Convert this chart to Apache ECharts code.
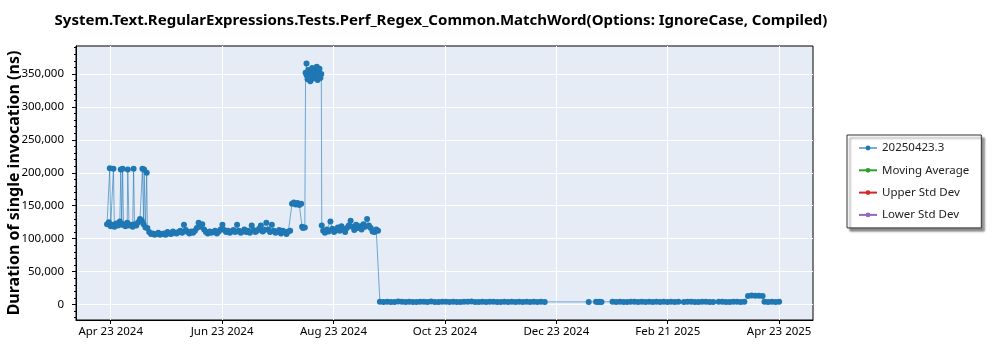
<!DOCTYPE html>
<html>
<head>
<meta charset="utf-8">
<script src="https://cdn.jsdelivr.net/npm/echarts@6/dist/echarts.min.js"></script>
<style>
html,body{margin:0;padding:0;background:#fff;}
#chart{width:1000px;height:350px;}
</style>
</head>
<body>
<div id="chart"></div>
<script>
// ---------- DATA ----------
const chartTitle = 'System.Text.RegularExpressions.Tests.Perf_Regex_Common.MatchWord(Options: IgnoreCase, Compiled)';
const yAxisTitle = 'Duration of single invocation (ns)';
const seriesNames = ['20250423.3', 'Moving Average', 'Upper Std Dev', 'Lower Std Dev'];
const xTickLabels = ['Apr 23 2024', 'Jun 23 2024', 'Aug 23 2024', 'Oct 23 2024', 'Dec 23 2024', 'Feb 21 2025', 'Apr 23 2025'];
const xTickOrigin = '2024-04-23';
const xTickStepDays = 365 / 6;
const yTickValues = [0, 50000, 100000, 150000, 200000, 250000, 300000, 350000];
const yMinorTickValues = [-20000, -10000, 10000, 20000, 30000, 40000, 60000, 70000, 80000, 90000,
  110000, 120000, 130000, 140000, 160000, 170000, 180000, 190000, 210000, 220000, 230000, 240000,
  260000, 270000, 280000, 290000, 310000, 320000, 330000, 340000, 360000, 370000, 380000, 390000];

const runDates = [
  '2024-04-21','2024-04-22','2024-04-22T12:00','2024-04-23','2024-04-24','2024-04-24T12:00','2024-04-25','2024-04-26','2024-04-27','2024-04-28',
  '2024-04-28T12:00','2024-04-29','2024-04-29T12:00','2024-04-30','2024-05-01','2024-05-02','2024-05-02T08:00','2024-05-03','2024-05-04','2024-05-05',
  '2024-05-05T12:00','2024-05-06','2024-05-07','2024-05-08','2024-05-09','2024-05-10','2024-05-10T08:00','2024-05-11','2024-05-11T06:00','2024-05-12',
  '2024-05-12T16:00','2024-05-13','2024-05-14',
  '2024-05-15','2024-05-16','2024-05-17','2024-05-18','2024-05-19','2024-05-20','2024-05-21','2024-05-22','2024-05-23','2024-05-24',
  '2024-05-25','2024-05-26','2024-05-27','2024-05-28','2024-05-29','2024-05-30','2024-05-31','2024-06-01','2024-06-02','2024-06-03',
  '2024-06-04','2024-06-05','2024-06-06','2024-06-07','2024-06-08','2024-06-09','2024-06-10','2024-06-11','2024-06-12','2024-06-13',
  '2024-06-14','2024-06-15','2024-06-16','2024-06-17','2024-06-18','2024-06-19','2024-06-20','2024-06-21','2024-06-22','2024-06-23',
  '2024-06-24','2024-06-25','2024-06-26','2024-06-27','2024-06-28','2024-06-29','2024-06-30','2024-07-01','2024-07-02','2024-07-03',
  '2024-07-04','2024-07-05','2024-07-06','2024-07-07','2024-07-08','2024-07-09','2024-07-10','2024-07-11','2024-07-12','2024-07-13',
  '2024-07-14','2024-07-15','2024-07-16','2024-07-17','2024-07-18','2024-07-19','2024-07-20','2024-07-21','2024-07-22','2024-07-23',
  '2024-07-24','2024-07-25','2024-07-26','2024-07-27','2024-07-28','2024-07-29','2024-07-30',
  '2024-07-31','2024-08-01','2024-08-02','2024-08-03','2024-08-04','2024-08-05','2024-08-05T12:00','2024-08-06','2024-08-07','2024-08-07T10:00',
  '2024-08-07T22:00','2024-08-08','2024-08-08T12:00','2024-08-09','2024-08-09T12:00','2024-08-10','2024-08-10T12:00','2024-08-11','2024-08-11T12:00','2024-08-12',
  '2024-08-12T12:00','2024-08-13','2024-08-13T12:00','2024-08-14','2024-08-14T12:00','2024-08-15','2024-08-15T12:00','2024-08-16','2024-08-16T06:00',
  '2024-08-17','2024-08-18','2024-08-19','2024-08-20','2024-08-21','2024-08-22','2024-08-23','2024-08-24','2024-08-25','2024-08-26',
  '2024-08-27','2024-08-28','2024-08-29','2024-08-30','2024-08-31','2024-09-01','2024-09-02','2024-09-03','2024-09-04','2024-09-05',
  '2024-09-06','2024-09-07','2024-09-08','2024-09-09','2024-09-10','2024-09-11','2024-09-12','2024-09-13','2024-09-14','2024-09-15','2024-09-16',
  '2024-09-17','2024-09-19','2024-09-21','2024-09-23','2024-09-25','2024-09-27','2024-09-29','2024-10-01','2024-10-03','2024-10-05',
  '2024-10-07','2024-10-09','2024-10-11','2024-10-13','2024-10-15','2024-10-17','2024-10-19','2024-10-21','2024-10-23','2024-10-25',
  '2024-10-27','2024-10-29','2024-10-31','2024-11-02','2024-11-04','2024-11-06','2024-11-08','2024-11-10','2024-11-12','2024-11-14',
  '2024-11-16','2024-11-18','2024-11-20','2024-11-22','2024-11-24','2024-11-26','2024-11-28','2024-11-30','2024-12-02','2024-12-04',
  '2024-12-06','2024-12-08','2024-12-10','2024-12-12','2024-12-14','2024-12-16',
  '2025-01-09','2025-01-13','2025-01-14','2025-01-15','2025-01-16',
  '2025-01-22','2025-01-24','2025-01-26','2025-01-28','2025-01-30','2025-02-01','2025-02-03','2025-02-05','2025-02-07','2025-02-09',
  '2025-02-11','2025-02-13','2025-02-15','2025-02-17','2025-02-19','2025-02-21','2025-02-23','2025-02-25','2025-02-27','2025-03-02',
  '2025-03-04','2025-03-06','2025-03-08','2025-03-10','2025-03-12','2025-03-14','2025-03-16','2025-03-18','2025-03-21','2025-03-23',
  '2025-03-25','2025-03-27','2025-03-29','2025-03-31','2025-04-02','2025-04-04','2025-04-06','2025-04-08','2025-04-10','2025-04-12',
  '2025-04-14','2025-04-15','2025-04-17','2025-04-19','2025-04-21','2025-04-23'
];

const durationNs = [
  122000,125000,207000,119000,121000,206000,118000,123000,120000,126000,
  205000,121000,206000,122000,119000,124000,205000,120000,121000,118000,
  206000,122000,120000,125000,130000,127000,206000,122000,205000,117000,
  200000,116000,110000,
  107000,108000,106000,107000,109000,106000,107000,108000,106000,110000,
  108000,107000,111000,109000,108000,110000,112000,109000,121000,113000,
  110000,108000,111000,109000,112000,116000,124000,118000,122000,114000,
  110000,108000,111000,109000,110000,112000,108000,111000,114000,121000,
  113000,110000,112000,109000,111000,113000,110000,121000,112000,109000,
  111000,114000,110000,112000,109000,120000,113000,110000,112000,115000,
  120000,111000,113000,124000,114000,110000,121000,112000,109000,111000,
  113000,108000,112000,110000,107000,111000,112000,
  153000,155000,152000,154000,151000,153000,118000,116000,117000,352000,
  366000,348000,342000,356000,345000,339000,352000,359000,343000,350000,
  356000,346000,361000,341000,353000,358000,344000,350000,120000,
  112000,109000,114000,111000,126000,115000,110000,113000,117000,112000,
  119000,114000,110000,116000,120000,127000,118000,113000,121000,116000,
  119000,114000,122000,118000,130000,120000,116000,111000,110000,114000,112000,
  4200,3900,4300,4000,3800,4400,4100,3900,4200,4000,
  3800,4300,4100,3900,4400,4000,3800,4200,4100,3900,
  4300,4000,3800,4200,4100,4400,3900,4000,4200,3800,
  4100,4300,3900,4000,4200,3800,4100,4000,4300,3900,
  4100,4000,4200,3800,4100,4000,
  4000,4200,3900,4100,4000,
  4100,3900,4200,4000,3800,4300,4100,3900,4200,4000,
  4100,3800,4200,4000,4300,3900,4100,4000,4200,3900,
  4100,4300,4000,3800,4200,4100,3900,4000,4200,4100,
  3900,4000,4300,4100,4000,4200,13000,13600,13200,13400,
  12800,4200,3900,4100,4000,4100
];

// ---------- BUILD ----------
function toMs(s) {
  const iso = s.length === 10 ? s + 'T00:00' : s;
  return Date.parse(iso + 'Z');
}
const DAY = 86400000;
const originMs = toMs(xTickOrigin);
const stepMs = xTickStepDays * DAY;
function toUnit(s) { return (toMs(s) - originMs) / stepMs; }

const mainData = runDates.map((d, i) => [toUnit(d), durationNs[i]]);
const xTickValues = xTickLabels.map((_, i) => i);

const FONT = 'Noto Sans';
const colors = ['#1f77b4', '#2ca02c', '#d62728', '#9467bd'];
const Y_MIN = -23500, Y_MAX = 392500;

const chart = echarts.init(document.getElementById('chart'), null, { renderer: 'canvas' });
chart.setOption({
  animation: false,
  backgroundColor: '#ffffff',
  title: {
    text: chartTitle,
    left: 436, textAlign: 'center',
    top: 8,
    textStyle: { fontFamily: FONT, fontSize: 15, fontWeight: 'bold', color: '#000' }
  },
  grid: {
    left: 76, right: 187, top: 46, bottom: 30,
    show: true, backgroundColor: '#e5ecf6', borderColor: '#000', borderWidth: 1,
    containLabel: false, outerBoundsMode: 'none'
  },
  legend: {
    orient: 'vertical',
    left: 847, top: 135,
    data: seriesNames,
    backgroundColor: '#ffffff',
    borderColor: '#333', borderWidth: 1,
    shadowColor: 'rgba(0,0,0,0.45)', shadowBlur: 2, shadowOffsetX: 3, shadowOffsetY: 3,
    padding: [7, 12, 7, 11],
    itemGap: 10.3,
    itemWidth: 18, itemHeight: 6,
    textStyle: { fontFamily: FONT, fontSize: 11.5, color: '#222' }
  },
  xAxis: {
    type: 'value',
    min: -0.3115, max: 6.304,
    axisLine: { show: true, onZero: false, lineStyle: { color: '#000' } },
    axisTick: { show: true, length: 4, lineStyle: { color: '#000' }, customValues: xTickValues },
    axisLabel: {
      fontFamily: FONT, fontSize: 11.5, color: '#000', margin: 6,
      customValues: xTickValues,
      formatter: function (v) {
        const i = Math.round(v);
        return (i >= 0 && i < xTickLabels.length) ? xTickLabels[i] : '';
      }
    },
    splitLine: { show: true, lineStyle: { color: '#ffffff', width: 1 } }
  },
  yAxis: [
    {
      type: 'value', position: 'left',
      min: Y_MIN, max: Y_MAX,
      name: yAxisTitle,
      nameLocation: 'middle',
      nameGap: 54,
      nameMoveOverlap: false,
      nameTextStyle: { fontFamily: FONT, fontSize: 16, fontWeight: 'bold', color: '#000' },
      axisLine: { show: true, onZero: false, lineStyle: { color: '#000' } },
      axisTick: { show: true, length: 4, lineStyle: { color: '#000' }, customValues: yTickValues },
      axisLabel: {
        fontFamily: FONT, fontSize: 11.5, color: '#000', margin: 12,
        customValues: yTickValues,
        formatter: function (v) { return v.toLocaleString('en-US'); }
      },
      splitLine: { show: true, lineStyle: { color: '#ffffff', width: 1 } }
    },
    {
      type: 'value', position: 'left', offset: 0,
      min: Y_MIN, max: Y_MAX,
      axisLine: { show: false, onZero: false },
      axisTick: { show: true, length: 2, lineStyle: { color: '#000' }, customValues: yMinorTickValues },
      axisLabel: { show: false },
      splitLine: { show: false }
    }
  ],
  series: [
    {
      name: seriesNames[0], type: 'line', data: mainData,
      symbol: 'circle', symbolSize: 6, showSymbol: true,
      lineStyle: { color: colors[0], width: 1, opacity: 0.6 },
      itemStyle: { color: colors[0], borderWidth: 0 },
      emphasis: { disabled: true }
    },
    { name: seriesNames[1], type: 'line', data: [], symbol: 'circle', lineStyle: { color: colors[1], width: 1 }, itemStyle: { color: colors[1] } },
    { name: seriesNames[2], type: 'line', data: [], symbol: 'circle', lineStyle: { color: colors[2], width: 1 }, itemStyle: { color: colors[2] } },
    { name: seriesNames[3], type: 'line', data: [], symbol: 'circle', lineStyle: { color: colors[3], width: 1 }, itemStyle: { color: colors[3] } }
  ]
});
</script>
</body>
</html>
